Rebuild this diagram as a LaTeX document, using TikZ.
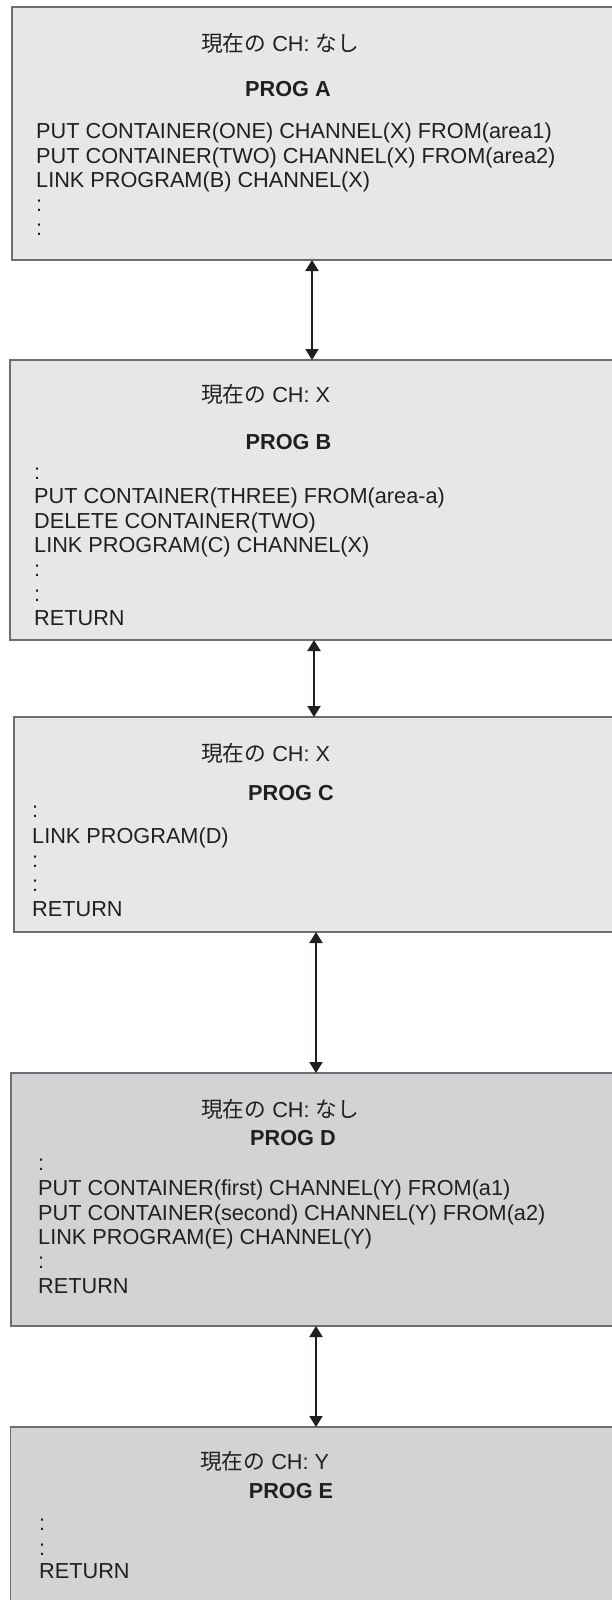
\documentclass[tikz,border=0pt]{standalone}
\usepackage{fontspec}
\setmainfont{Liberation Sans}
\newfontfamily\jp{Noto Sans CJK JP}
\usetikzlibrary{arrows.meta}
\definecolor{boxlight}{HTML}{E6E7E8}
\definecolor{boxdark}{HTML}{D1D3D4}
\definecolor{edge}{HTML}{6D6E71}
\definecolor{ink}{HTML}{231F20}
\begin{document}
\begin{tikzpicture}[x=1pt,y=-1pt,
  progbox/.style={draw=edge,line width=1.3pt,inner sep=0pt,outer sep=0pt,anchor=north west},
  light/.style={fill=boxlight},
  darkfill/.style={fill=boxdark},
  txt/.style={font=\fontsize{21.7pt}{24pt}\selectfont,text=ink,inner sep=0pt,anchor=base west},
  ttl/.style={font=\fontsize{21.7pt}{24pt}\selectfont\bfseries,text=ink,inner sep=0pt,anchor=base},
  conn/.style={draw=ink,line width=2pt,{Triangle[width=13pt,length=11pt]}-{Triangle[width=13pt,length=11pt]}}]
\useasboundingbox (0,0) rectangle (611,1600);
\fill[white] (0,0) rectangle (611,1600);

% boxes
\node[progbox,light,minimum width=608pt,minimum height=253pt] (A) at (12,7) {};
\node[progbox,light,minimum width=610pt,minimum height=280pt] (B) at (10,360) {};
\node[progbox,light,minimum width=606pt,minimum height=215pt] (C) at (14,717) {};
\node[progbox,darkfill,minimum width=609pt,minimum height=253pt] (D) at (11,1073) {};
\node[progbox,darkfill,minimum width=610pt,minimum height=200pt] (E) at (10.5,1427) {};

% PROG A
\node[txt] (Ah) at (201,52) {{\jp 現在の} CH: {\jp なし}};
\node[ttl] (At) at (288,97) {PROG A};
\node[txt] (A1) at (36,139) {PUT CONTAINER(ONE) CHANNEL(X) FROM(area1)};
\node[txt] (A2) at (36,163) {PUT CONTAINER(TWO) CHANNEL(X) FROM(area2)};
\node[txt] (A3) at (36,187) {LINK PROGRAM(B) CHANNEL(X)};
\node[txt] (A4) at (36,211) {:};
\node[txt] (A5) at (36,235) {:};

% PROG B
\node[txt] (Bh) at (201,402) {{\jp 現在の} CH: X};
\node[ttl] (Bt) at (288.5,449) {PROG B};
\node[txt] (B1) at (34,479) {:};
\node[txt] (B2) at (34,503.5) {PUT CONTAINER(THREE) FROM(area-a)};
\node[txt] (B3) at (34,528) {DELETE CONTAINER(TWO)};
\node[txt] (B4) at (34,552) {LINK PROGRAM(C) CHANNEL(X)};
\node[txt] (B5) at (34,576.5) {:};
\node[txt] (B6) at (34,601) {:};
\node[txt] (B7) at (34,625) {RETURN};

% PROG C
\node[txt] (Ch) at (201,761) {{\jp 現在の} CH: X};
\node[ttl] (Ct) at (291,800) {PROG C};
\node[txt] (C1) at (32,817) {:};
\node[txt] (C2) at (32,843) {LINK PROGRAM(D)};
\node[txt] (C3) at (32,867) {:};
\node[txt] (C4) at (32,891) {:};
\node[txt] (C5) at (32,916) {RETURN};

% PROG D
\node[txt] (Dh) at (201,1117) {{\jp 現在の} CH: {\jp なし}};
\node[ttl] (Dt) at (293,1145) {PROG D};
\node[txt] (D1) at (38,1170) {:};
\node[txt] (D2) at (38,1195) {PUT CONTAINER(first) CHANNEL(Y) FROM(a1)};
\node[txt] (D3) at (38,1220) {PUT CONTAINER(second) CHANNEL(Y) FROM(a2)};
\node[txt] (D4) at (38,1244) {LINK PROGRAM(E) CHANNEL(Y)};
\node[txt] (D5) at (38,1268) {:};
\node[txt] (D6) at (38,1293) {RETURN};

% PROG E
\node[txt] (Eh) at (200,1469) {{\jp 現在の} CH: Y};
\node[ttl] (Et) at (291,1498) {PROG E};
\node[txt] (E1) at (39,1530) {:};
\node[txt] (E2) at (39,1555) {:};
\node[txt] (E3) at (39,1578) {RETURN};

% connectors
\coordinate (x1) at (312,0);
\coordinate (x2) at (314,0);
\coordinate (x3) at (316,0);
\coordinate (x4) at (316,0);
\draw[conn] (A.south -| x1) -- (B.north -| x1);
\draw[conn] (B.south -| x2) -- (C.north -| x2);
\draw[conn] (C.south -| x3) -- (D.north -| x3);
\draw[conn] (D.south -| x4) -- (E.north -| x4);
\end{tikzpicture}
\end{document}
